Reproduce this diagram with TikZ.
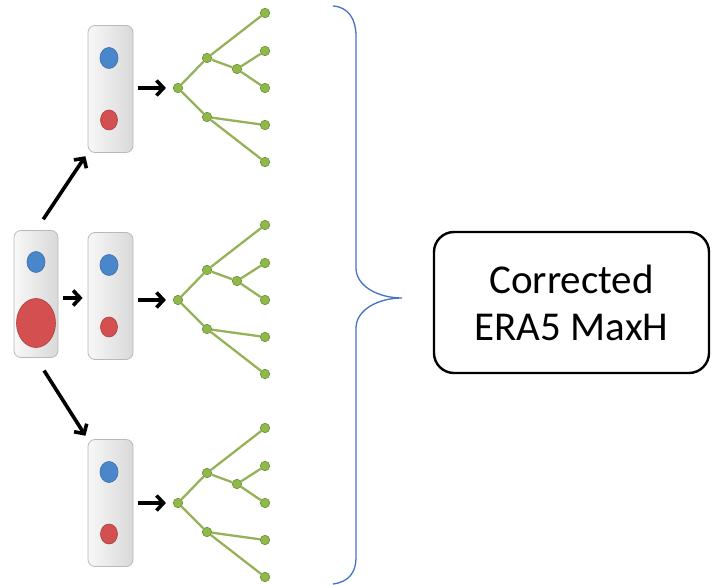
\documentclass[tikz,border=0pt]{standalone}
\usepackage{fontspec}
\setmainfont{Carlito}
\usetikzlibrary{arrows.meta,shapes.geometric}

\definecolor{braceblue}{RGB}{68,114,196}
\definecolor{leafgreen}{RGB}{143,186,74}
\definecolor{branchgreen}{RGB}{150,178,88}
\definecolor{dotblue}{RGB}{74,134,204}
\definecolor{dotred}{RGB}{212,80,80}

\begin{document}
\begin{tikzpicture}[x = 1pt, y = -1pt,
    member/.style = {rounded corners = 7pt, minimum width = 45pt,
                     minimum height = 127pt, draw = gray!55, line width = .8pt,
                     left color = gray!6, right color = gray!30},
    blue dot/.style = {ellipse, minimum width = 18pt, minimum height = 21pt,
                       inner sep = 0pt, fill = dotblue,
                       draw = dotblue!80!black, line width = .6pt},
    red dot/.style = {ellipse, minimum width = 17pt, minimum height = 20pt,
                      inner sep = 0pt, fill = dotred,
                      draw = dotred!80!black, line width = .6pt},
    leaf/.style = {circle, minimum size = 9.5pt, inner sep = 0pt,
                   fill = leafgreen, draw = leafgreen!75!black,
                   line width = .6pt},
    branch/.style = {draw = branchgreen, line width = 2.3pt},
    fat arrow/.style = {line width = 3.6pt,
                        -{Straight Barb[length = 7pt, width = 15pt]}},
    result/.style = {draw, line width = 2.4pt, rounded corners = 20pt,
                     minimum width = 275pt, minimum height = 141pt,
                     align = center, font = \fontsize{41}{47}\selectfont}]
  \useasboundingbox (0,0) rectangle (712,585);

  % parent member
  \node [member, minimum width = 44pt] (parent) at (36,294) {};
  \node [blue dot] (blueparent) at (36,262) {};
  \node [red dot, minimum width = 39pt, minimum height = 49pt]
    (redparent) at (36,323) {};

  % three members, each with its tree
  \foreach \r/\by/\ty in {top/89/88, mid/296/300, bot/503/503}
    {
      \node [member] (box\r) at (110.5,\by) {};
      \node [blue dot] (blue\r) at (109,\by-31) {};
      \node [red dot] (red\r) at (109,\by+31) {};

      \node [leaf] (root\r) at (178,\ty) {};
      \node [leaf] (a\r) at (207,\ty-30) {};
      \node [leaf] (b\r) at (265,\ty-75) {};
      \node [leaf] (c\r) at (237,\ty-19) {};
      \node [leaf] (d\r) at (265,\ty-37) {};
      \node [leaf] (e\r) at (265,\ty) {};
      \node [leaf] (f\r) at (207,\ty+29) {};
      \node [leaf] (g\r) at (265,\ty+37) {};
      \node [leaf] (h\r) at (265,\ty+74) {};
      \draw [branch] (root\r) -- (a\r) -- (b\r)
                     (a\r) -- (c\r) -- (d\r)
                     (c\r) -- (e\r)
                     (root\r) -- (f\r) -- (g\r)
                     (f\r) -- (h\r);

      \draw [fat arrow, shorten <= 5pt, shorten >= 7pt]
            (box\r.east |- root\r) -- (root\r);
    }

  \draw [fat arrow, shorten <= 13pt, shorten >= 4pt]
        (parent.north) -- (boxtop.south west);
  \draw [fat arrow, shorten <= 5pt, shorten >= 5pt]
        (parent.east |- 0,298) -- (boxmid.west |- 0,298);
  \draw [fat arrow, shorten <= 15pt, shorten >= 4pt]
        (parent.south) -- (boxbot.north west);

  % brace
  \draw [braceblue, line width = 1.3pt]
        (333,6) .. controls (349,7) and (356,20) .. (356,36) -- (356,268)
        .. controls (356,286) and (378,298) .. (402,298)
        .. controls (378,298) and (356,310) .. (356,328) -- (356,558)
        .. controls (356,572) and (349,582) .. (333,584);

  \node [result] (result) at (571.5,302.5) {Corrected\\ERA5 MaxH};
\end{tikzpicture}
\end{document}
